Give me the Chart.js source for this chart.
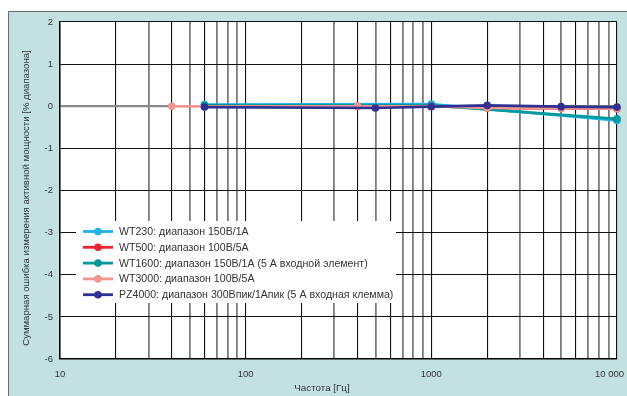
<!DOCTYPE html>
<html>
<head>
<meta charset="utf-8">
<script src="https://cdn.jsdelivr.net/npm/chart.js@4.4.0/dist/chart.umd.min.js"></script>
<style>
  html,body{margin:0;padding:0;background:#fff;}
  canvas{display:block;}
</style>
</head>
<body>
<canvas id="c" width="627" height="396"></canvas>
<script>
// data
const seriesNames = [
  'WT230: диапазон 150В/1А',
  'WT500: диапазон 100В/5А',
  'WT1600: диапазон 150В/1А (5 А входной элемент)',
  'WT3000: диапазон 100В/5А',
  'PZ4000: диапазон 300Впик/1Апик (5 А входная клемма)'
];
const seriesColors = ['#1cb3e8','#e8262c','#00999b','#f2958f','#2e3192'];

const wt230F = [60, 1000, 10000];
const wt230V = [0.04, 0.05, -0.34];
const wt500F = [60, 400, 1000, 2000, 5000, 10000];
const wt500V = [0.0, 0.0, 0.0, -0.04, -0.05, -0.06];
const wt1600F = [60, 1000, 10000];
const wt1600V = [0.02, 0.02, -0.30];
const wt3000F = [40, 400, 1000, 2000, 5000, 10000];
const wt3000V = [0.0, 0.0, 0.0, -0.04, -0.05, -0.06];
const pz4000F = [60, 500, 1000, 2000, 5000, 10000];
const pz4000V = [-0.02, -0.04, -0.01, 0.02, -0.01, -0.02];

const xGrid = [10,20,30,40,50,60,70,80,90,100,200,300,400,500,600,700,800,900,1000,
               2000,3000,4000,5000,6000,7000,8000,9000,10000];
const xLabels = {10:'10', 100:'100', 1000:'1000', 10000:'10 000'};
const xTitle = 'Частота [Гц]';
const yTitle = 'Суммарная ошибка измерения активной мощности [% диапазона]';

const pts = (f,v)=>f.map((x,i)=>({x, y:v[i]}));
const allF = [wt230F, wt500F, wt1600F, wt3000F, pz4000F];
const allV = [wt230V, wt500V, wt1600V, wt3000V, pz4000V];
const drawOrder = [4, 3, 2, 1, 0]; // lower = on top

const datasets = seriesNames.map((n,i)=>({
  label:n, data:pts(allF[i], allV[i]),
  borderColor:seriesColors[i], backgroundColor:seriesColors[i],
  pointBackgroundColor:seriesColors[i], pointBorderWidth:0,
  pointRadius:3.8, borderWidth:2.6, tension:0, clip:false, order:drawOrder[i]
}));

const FONT = '"Liberation Sans", Arial, sans-serif';
const isDark = v=>{ const m = v/Math.pow(10,Math.floor(Math.log10(v)+1e-9)); return [1,2,4,6].includes(Math.round(m)); };

const deco = {
  id:'deco',
  beforeDraw(c){
    const ctx=c.ctx, a=c.chartArea;
    ctx.save();
    ctx.fillStyle='#c3e1e1';
    ctx.fillRect(8,11,c.width-8,c.height-11);
    ctx.strokeStyle='#6a6a6a'; ctx.lineWidth=1;
    ctx.beginPath(); ctx.moveTo(8.5,c.height); ctx.lineTo(8.5,11.5); ctx.lineTo(c.width,11.5); ctx.stroke();
    ctx.fillStyle='#fff';
    ctx.fillRect(a.left,a.top,a.right-a.left,a.bottom-a.top);
    ctx.restore();
  },
  afterDatasetsDraw(c){
    const ctx=c.ctx;
    ctx.save();
    // legend box
    ctx.fillStyle='#fff';
    ctx.fillRect(76,221,320,82);
    ctx.font='10.6px '+FONT; ctx.textBaseline='middle'; ctx.textAlign='left';
    seriesNames.forEach((n,i)=>{
      const y = 231.5 + i*15.8;
      ctx.strokeStyle=seriesColors[i]; ctx.lineWidth=2.8;
      ctx.beginPath(); ctx.moveTo(83,y); ctx.lineTo(113,y); ctx.stroke();
      ctx.fillStyle=seriesColors[i];
      ctx.beginPath(); ctx.arc(98,y,3.8,0,Math.PI*2); ctx.fill();
      ctx.fillStyle='#333';
      ctx.fillText(n,119,y+0.5);
    });
    ctx.restore();
  },
  afterDraw(c){
    const ctx=c.ctx, xs=c.scales.x, a=c.chartArea;
    ctx.save();
    ctx.fillStyle='#333'; ctx.font='9.5px '+FONT; ctx.textBaseline='middle';
    Object.keys(xLabels).forEach(k=>{
      const v=Number(k), px=xs.getPixelForValue(v);
      if(v===10000){ ctx.textAlign='right'; ctx.fillText(xLabels[k], px+7, a.bottom+15.5); }
      else { ctx.textAlign='center'; ctx.fillText(xLabels[k], px, a.bottom+15.5); }
    });
    ctx.font='9.8px '+FONT; ctx.textAlign='center';
    ctx.fillText(xTitle, 322, 388.5);
    ctx.translate(26,198); ctx.rotate(-Math.PI/2);
    ctx.font='9.6px '+FONT;
    ctx.fillText(yTitle, 0, 0);
    ctx.restore();
  }
};

new Chart(document.getElementById('c'), {
  type:'line',
  data:{datasets},
  options:{
    responsive:false, animation:false,
    layout:{padding:{left:8, right:10, top:22, bottom:0}},
    plugins:{legend:{display:false}, tooltip:{enabled:false}},
    scales:{
      x:{
        type:'logarithmic', min:10, max:10000,
        afterBuildTicks:s=>{ s.ticks = xGrid.map(v=>({value:v})); },
        afterFit:s=>{ s.height=37; },
        ticks:{display:false},
        grid:{
          drawTicks:false,
          color:ctx=>isDark(ctx.tick.value)?'#111':'#7c7c7c',
          lineWidth:ctx=>isDark(ctx.tick.value)?1.1:1.8
        },
        border:{color:'#000', width:1.5}
      },
      y:{
        min:-6, max:2,
        afterFit:s=>{ s.width=52; },
        ticks:{stepSize:1, padding:7, color:'#333', font:{family:FONT, size:9.5}},
        grid:{
          drawTicks:false,
          color:ctx=>ctx.tick.value===0?'#8a8a8a':'#111',
          lineWidth:ctx=>ctx.tick.value===0?2.2:1.1
        },
        border:{color:'#000', width:1.5}
      }
    }
  },
  plugins:[deco]
});
</script>
</body>
</html>
